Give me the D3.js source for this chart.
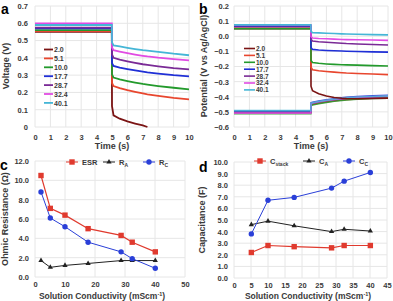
<!DOCTYPE html>
<html><head><meta charset="utf-8">
<script src="https://cdn.jsdelivr.net/npm/d3@7"></script>
<style>
html,body{margin:0;padding:0;background:#fff;}
svg{display:block;font-family:"Liberation Sans",Arial,sans-serif;}
text{font-weight:bold;fill:#3a3a3a;}
</style></head>
<body>
<script>
// ---------- DATA ----------
const seriesNames = ["2.0","5.1","10.0","17.7","28.7","32.4","40.1"];
const seriesColors = ["#7b1414","#e8462e","#239a2c","#1f2fd6","#7a2a96","#e14be3","#45b6d6"];
const timeS = [0, 4.99, 5.0, 5.1, 5.5, 6, 6.5, 7, 7.3, 8, 9, 10];

// panel a: cell voltage (V)
const voltage = [
  [0.550,0.550,0.120,0.067,0.048,0.032,0.020,0.009,0.000,null,null,null],
  [0.555,0.555,0.255,0.237,0.225,0.213,0.203,0.194,0.189,0.180,0.169,0.160],
  [0.560,0.560,0.305,0.286,0.276,0.266,0.257,0.249,0.245,0.237,0.227,0.218],
  [0.570,0.570,0.370,0.353,0.344,0.335,0.327,0.320,0.316,0.309,0.300,0.293],
  [0.575,0.575,0.420,0.400,0.390,0.380,0.371,0.363,0.359,0.351,0.341,0.333],
  [0.600,0.600,0.460,0.444,0.436,0.427,0.419,0.412,0.408,0.401,0.393,0.386],
  [0.590,0.590,0.490,0.472,0.466,0.458,0.451,0.445,0.442,0.435,0.424,0.415]
];
// panel b: electrode potentials (V vs Ag/AgCl), upper electrode
const potentialUpper = [
  [0.050,0.050,-0.330,-0.360,-0.380,-0.395,-0.405,-0.410,-0.412,-0.413,-0.412,-0.410],
  [0.055,0.055,-0.205,-0.221,-0.228,-0.233,-0.237,-0.241,-0.243,-0.246,-0.250,-0.254],
  [0.050,0.050,-0.160,-0.174,-0.179,-0.183,-0.186,-0.188,-0.189,-0.191,-0.194,-0.197],
  [0.065,0.065,-0.075,-0.087,-0.091,-0.094,-0.096,-0.098,-0.099,-0.101,-0.103,-0.105],
  [0.070,0.070,-0.020,-0.031,-0.036,-0.040,-0.043,-0.046,-0.048,-0.051,-0.055,-0.058],
  [0.075,0.075,-0.002,-0.012,-0.015,-0.017,-0.019,-0.021,-0.022,-0.023,-0.025,-0.027],
  [0.075,0.075,0.032,0.024,0.022,0.020,0.018,0.016,0.015,0.013,0.011,0.009]
];
// panel b: lower electrode
const potentialLower = [
  [-0.500,-0.500,-0.452,-0.448,-0.440,-0.432,-0.425,-0.419,-0.416,-0.411,-0.407,-0.404],
  [-0.505,-0.505,-0.455,-0.451,-0.443,-0.435,-0.428,-0.422,-0.419,-0.414,-0.410,-0.407],
  [-0.512,-0.512,-0.458,-0.454,-0.446,-0.437,-0.430,-0.424,-0.421,-0.416,-0.412,-0.409],
  [-0.495,-0.495,-0.440,-0.436,-0.428,-0.420,-0.413,-0.407,-0.404,-0.399,-0.394,-0.390],
  [-0.502,-0.502,-0.447,-0.443,-0.435,-0.427,-0.420,-0.414,-0.411,-0.406,-0.402,-0.398],
  [-0.508,-0.508,-0.445,-0.441,-0.433,-0.425,-0.418,-0.412,-0.409,-0.404,-0.400,-0.396],
  [-0.492,-0.492,-0.443,-0.439,-0.431,-0.423,-0.416,-0.410,-0.407,-0.402,-0.398,-0.394]
];
// panel c: ohmic resistance (Ω)
const conductivityC = [2.0, 5.1, 10.0, 17.7, 28.7, 32.4, 40.1];
const esr = [10.5, 7.1, 6.4, 5.0, 4.3, 3.6, 2.6];
const rA  = [1.7, 1.0, 1.2, 1.4, 1.7, 1.7, 1.7];
const rC  = [8.8, 6.1, 5.2, 3.6, 2.6, 1.9, 0.9];
// panel d: capacitance (F)
const conductivityD = [5.1, 10.0, 17.7, 28.7, 32.4, 40.1];
const cStack = [2.2, 2.8, 2.7, 2.6, 2.8, 2.8];
const cA     = [4.6, 4.9, 4.5, 4.0, 4.2, 4.05];
const cC     = [3.8, 6.7, 6.95, 7.75, 8.35, 9.1];

// tick labels
const ticksTime = [0,1,2,3,4,5,6,7,8,9,10];
const ticksVolt = [0,0.1,0.2,0.3,0.4,0.5,0.6,0.7];
const ticksPot = [-0.6,-0.5,-0.4,-0.3,-0.2,-0.1,0,0.1,0.2];
const ticksRes = [0,2,4,6,8,10,12];
const ticksCondC = [0,10,20,30,40,50];
const ticksCap = [0,1,2,3,4,5,6,7,8,9,10];
const ticksCondD = [0,5,10,15,20,25,30,35,40,45];

// ---------- DRAW ----------
const W=393,H=301;
const svg=d3.select("body").append("svg").attr("width",W).attr("height",H);
const gridCol="#e6e6e6";
const TICK=7.5;

function panel(box, xDom, yDom, xt, yt, xfmt, yfmt){
  const x=d3.scaleLinear().domain(xDom).range([box.x0,box.x1]);
  const y=d3.scaleLinear().domain(yDom).range([box.y1,box.y0]);
  const g=svg.append("g");
  g.append("g").selectAll("line").data(xt).join("line")
    .attr("x1",d=>x(d)).attr("x2",d=>x(d)).attr("y1",box.y0).attr("y2",box.y1)
    .attr("stroke",gridCol).attr("stroke-width",1);
  g.append("g").selectAll("line").data(yt).join("line")
    .attr("y1",d=>y(d)).attr("y2",d=>y(d)).attr("x1",box.x0).attr("x2",box.x1)
    .attr("stroke",gridCol).attr("stroke-width",1);
  const ax=g.append("g").attr("transform",`translate(0,${box.y1})`)
    .call(d3.axisBottom(x).tickValues(xt).tickFormat(xfmt).tickSize(0).tickPadding(box.xpad));
  ax.select(".domain").remove();
  ax.selectAll("text").attr("font-size",TICK).attr("font-weight","bold").attr("fill","#3a3a3a").attr("font-family","Liberation Sans, Arial, sans-serif");
  const ay=g.append("g").attr("transform",`translate(${box.x0},0)`)
    .call(d3.axisLeft(y).tickValues(yt).tickFormat(yfmt).tickSize(0).tickPadding(box.ypad));
  ay.select(".domain").remove();
  ay.selectAll("text").attr("font-size",TICK).attr("font-weight","bold").attr("fill","#3a3a3a").attr("font-family","Liberation Sans, Arial, sans-serif");
  return {x,y,g};
}

function title(txt,x,y,rot,size){
  const t=svg.append("text").attr("text-anchor","middle").attr("font-size",size||9)
    .attr("transform",`translate(${x},${y})`+(rot?" rotate(-90)":"")).text(txt);
  return t;
}

// ---- panel a ----
{
  const p=panel({x0:35,x1:189,y0:6,y1:127,xpad:8,ypad:7},[0,10],[0,0.7],ticksTime,ticksVolt,
    d3.format("d"), d=>d===0?"0":d3.format(".1f")(d));
  const line=d3.line().defined(d=>d[1]!=null).x(d=>p.x(d[0])).y(d=>p.y(d[1]));
  voltage.forEach((vals,i)=>{
    p.g.append("path").datum(timeS.map((t,j)=>[t,vals[j]]))
      .attr("d",line).attr("fill","none").attr("stroke",seriesColors[i]).attr("stroke-width",1.8);
  });
  seriesNames.forEach((n,i)=>{
    const yy=49.5+i*8.9;
    p.g.append("line").attr("x1",44).attr("x2",53).attr("y1",yy).attr("y2",yy)
      .attr("stroke",seriesColors[i]).attr("stroke-width",1.8);
    p.g.append("text").attr("x",54).attr("y",yy+2.6).attr("font-size",7).text(n);
  });
  title("Voltage (V)",9,66,true,9);
  title("Time (s)",112,149,false,9);
  svg.append("text").attr("x",1).attr("y",14).attr("font-size",14).style("fill","#000").text("a");
}

// ---- panel b ----
{
  const p=panel({x0:234,x1:388,y0:6,y1:127,xpad:8,ypad:5},[0,10],[-0.6,0.2],ticksTime,ticksPot,
    d3.format("d"), d=>d3.format(".1f")(Math.abs(d)<1e-9?0:d));
  const line=d3.line().x(d=>p.x(d[0])).y(d=>p.y(d[1]));
  potentialLower.forEach((vals,i)=>{
    p.g.append("path").datum(timeS.map((t,j)=>[t,vals[j]]))
      .attr("d",line).attr("fill","none").attr("stroke",seriesColors[i]).attr("stroke-width",1.6).attr("opacity",0.85);
  });
  potentialUpper.forEach((vals,i)=>{
    p.g.append("path").datum(timeS.map((t,j)=>[t,vals[j]]))
      .attr("d",line).attr("fill","none").attr("stroke",seriesColors[i]).attr("stroke-width",1.6);
  });
  seriesNames.forEach((n,i)=>{
    const yy=48.5+i*6.9;
    p.g.append("line").attr("x1",244).attr("x2",255).attr("y1",yy).attr("y2",yy)
      .attr("stroke",seriesColors[i]).attr("stroke-width",1.6);
    p.g.append("text").attr("x",256).attr("y",yy+2.4).attr("font-size",6.5).text(n);
  });
  title("Potential (V vs Ag/AgCl)",207,66,true,9);
  title("Time (s)",311,149,false,9);
  svg.append("text").attr("x",199).attr("y",14).attr("font-size",14).style("fill","#000").text("b");
}

function marker(g,type,cx,cy,color){
  if(type==="square") g.append("rect").attr("x",cx-2.7).attr("y",cy-2.7).attr("width",5.4).attr("height",5.4).attr("fill",color);
  else if(type==="circle") g.append("circle").attr("cx",cx).attr("cy",cy).attr("r",2.7).attr("fill",color);
  else g.append("path").attr("d",d3.symbol(d3.symbolTriangle,12)()).attr("transform",`translate(${cx},${cy})`).attr("fill",color);
}
function series(p,xs,ys,color,type,w){
  const line=d3.line().x((d,i)=>p.x(xs[i])).y(d=>p.y(d));
  p.g.append("path").datum(ys).attr("d",line).attr("fill","none").attr("stroke",color).attr("stroke-width",w);
  ys.forEach((v,i)=>marker(p.g,type,p.x(xs[i]),p.y(v),color));
}
function legendItem(x,y,color,type,main,sub){
  svg.append("line").attr("x1",x-6).attr("x2",x+6).attr("y1",y).attr("y2",y).attr("stroke",color).attr("stroke-width",1);
  marker(svg,type,x,y,color);
  const t=svg.append("text").attr("x",x+10).attr("y",y+3).attr("font-size",7.5).text(main);
  if(sub) t.append("tspan").attr("font-size",5).attr("dy",2).text(sub);
}
function condTitle(x,y){
  const t=title("Solution Conductivity (mScm",x,y,false,8.5);
  t.append("tspan").attr("font-size",5.5).attr("dy",-3.5).text("-1");
  t.append("tspan").attr("font-size",8.5).attr("dy",3.5).text(")");
}

// ---- panel c ----
{
  const p=panel({x0:35,x1:185,y0:161,y1:277,xpad:5,ypad:6},[0,50],[0,12],ticksCondC,ticksRes,
    d3.format("d"), d3.format(".1f"));
  series(p,conductivityC,rA,"#222","triangle",1);
  series(p,conductivityC,rC,"#2a3fd8","circle",1);
  series(p,conductivityC,esr,"#e03a2e","square",1.2);
  legendItem(72,162,"#e03a2e","square","ESR");
  legendItem(109,162,"#222","triangle","R","A");
  legendItem(149,162,"#2a3fd8","circle","R","C");
  title("Ohmic Resistance (Ω)",8,219,true,9);
  condTitle(102,299);
  svg.append("text").attr("x",0).attr("y",170).attr("font-size",14).style("fill","#000").text("c");
}

// ---- panel d ----
{
  const p=panel({x0:234,x1:387,y0:162,y1:278,xpad:5,ypad:6},[0,45],[0,10],ticksCondD,ticksCap,
    d3.format("d"), d3.format(".1f"));
  series(p,conductivityD,cA,"#222","triangle",1);
  series(p,conductivityD,cC,"#2a3fd8","circle",1);
  series(p,conductivityD,cStack,"#e03a2e","square",1.2);
  legendItem(260,161,"#e03a2e","square","C","stack");
  legendItem(309,161,"#222","triangle","C","A");
  legendItem(349,161,"#2a3fd8","circle","C","C");
  title("Capacitance (F)",205,220,true,9);
  condTitle(308,299);
  svg.append("text").attr("x",199).attr("y",172).attr("font-size",14).style("fill","#000").text("d");
}
</script>
</body></html>
